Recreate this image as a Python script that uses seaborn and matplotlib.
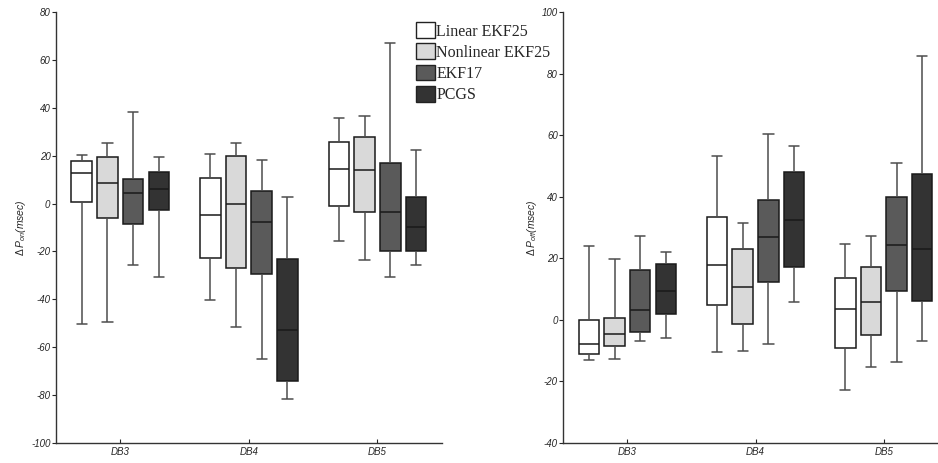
import numpy as np
import pandas as pd
import matplotlib
matplotlib.use("Agg")
import matplotlib.pyplot as plt
from matplotlib.patches import Patch
import seaborn as sns

# five-number summaries: (lower whisker, Q1, median, Q3, upper whisker)
datasets = ["DB3", "DB4", "DB5"]
methods = ["Linear EKF25", "Nonlinear EKF25", "EKF17", "PCGS"]
colors = ["#ffffff", "#d9d9d9", "#5a5a5a", "#333333"]

p_on = {
    "DB3": [(-50.5, 0.6, 12.8, 17.9, 20.2),
            (-49.4, -6.1, 8.4, 19.3, 25.5),
            (-25.7, -8.5, 4.2, 10.1, 38.2),
            (-30.7, -2.9, 6.2, 13.3, 19.3)],
    "DB4": [(-40.3, -22.7, -4.7, 10.8, 20.7),
            (-51.5, -26.8, -0.4, 20.0, 25.5),
            (-65.1, -29.6, -7.9, 5.1, 18.2),
            (-81.9, -74.1, -52.9, -23.1, 2.7)],
    "DB5": [(-15.6, -1.2, 14.3, 25.8, 35.8),
            (-23.6, -3.6, 14.0, 27.8, 36.5),
            (-30.7, -19.7, -3.6, 17.0, 66.9),
            (-25.7, -19.7, -10.0, 2.8, 22.3)],
}

p_off = {
    "DB3": [(-13.0, -11.1, -7.8, -0.1, 23.8),
            (-12.7, -8.5, -4.8, 0.6, 19.8),
            (-7.0, -3.9, 3.1, 16.0, 27.3),
            (-5.9, 2.0, 9.2, 18.2, 22.1)],
    "DB4": [(-10.6, 4.8, 17.8, 33.5, 53.3),
            (-10.2, -1.5, 10.5, 23.0, 31.3),
            (-8.0, 12.2, 26.8, 39.0, 60.4),
            (5.6, 17.1, 32.3, 48.1, 56.5)],
    "DB5": [(-22.9, -9.3, 3.4, 13.7, 24.6),
            (-15.4, -5.1, 5.6, 17.0, 27.3),
            (-13.9, 9.2, 24.3, 39.9, 51.0),
            (-7.0, 6.1, 23.0, 47.3, 85.6)],
}


def to_long(summary):
    # five points per box give exactly these quartiles; whis=(0, 100) puts whiskers at min/max
    rows = []
    for db in datasets:
        for m, stats in zip(methods, summary[db]):
            for v in stats:
                rows.append({"db": db, "method": m, "value": v})
    return pd.DataFrame(rows)


sns.set_style("ticks")
plt.rcParams["font.family"] = ["Liberation Sans", "DejaVu Sans"]
plt.rcParams["axes.unicode_minus"] = False
plt.rcParams["mathtext.fontset"] = "custom"
plt.rcParams["mathtext.it"] = "Liberation Sans:italic"
plt.rcParams["mathtext.rm"] = "Liberation Sans"

fig = plt.figure(figsize=(9.38, 4.63), dpi=100)
ax1 = fig.add_axes([0.0597, 0.0438, 0.4112, 0.930])
ax2 = fig.add_axes([0.6005, 0.0438, 0.4100, 0.930])

panels = [
    (ax1, p_on, (-100, 80), r"$\Delta\,P_{on}$(msec)"),
    (ax2, p_off, (-40, 100), r"$\Delta\,P_{off}$(msec)"),
]

for ax, summary, ylim, ylabel in panels:
    df = to_long(summary)
    sns.boxplot(data=df, x="db", y="value", hue="method", order=datasets,
                hue_order=methods, palette=colors, saturation=1, whis=(0, 100),
                width=0.8, gap=0.2, linecolor="#1a1a1a", linewidth=1.1,
                whiskerprops=dict(color="#4d4d4d"), capprops=dict(color="#4d4d4d"),
                legend=False, ax=ax)
    ax.set_xlim(-0.5, 2.5)
    ax.set_ylim(*ylim)
    ax.set_yticks(np.arange(ylim[0], ylim[1] + 1, 20))
    ax.set_xlabel("")
    ax.set_ylabel(ylabel, fontsize=7.5, fontstyle="italic", labelpad=2)
    sns.despine(ax=ax)
    for s in ["left", "bottom"]:
        ax.spines[s].set_color("#333333")
        ax.spines[s].set_linewidth(1.0)
    ax.tick_params(axis="y", direction="out", length=3, labelsize=7, pad=1)
    ax.tick_params(axis="x", direction="in", length=3, labelsize=7, pad=3)
    for lab in ax.get_xticklabels() + ax.get_yticklabels():
        lab.set_fontstyle("italic")

handles = [Patch(facecolor=c, edgecolor="#222222", linewidth=1.0) for c in colors]
fig.legend(handles, methods, loc="upper left", bbox_to_anchor=(0.444, 0.952),
           frameon=False, prop={"family": "Liberation Serif", "size": 11.5},
           handlelength=1.15, handleheight=1.15, handletextpad=0.1,
           labelspacing=0.24, borderaxespad=0, borderpad=0)

fig.savefig("out.png", dpi=100)
